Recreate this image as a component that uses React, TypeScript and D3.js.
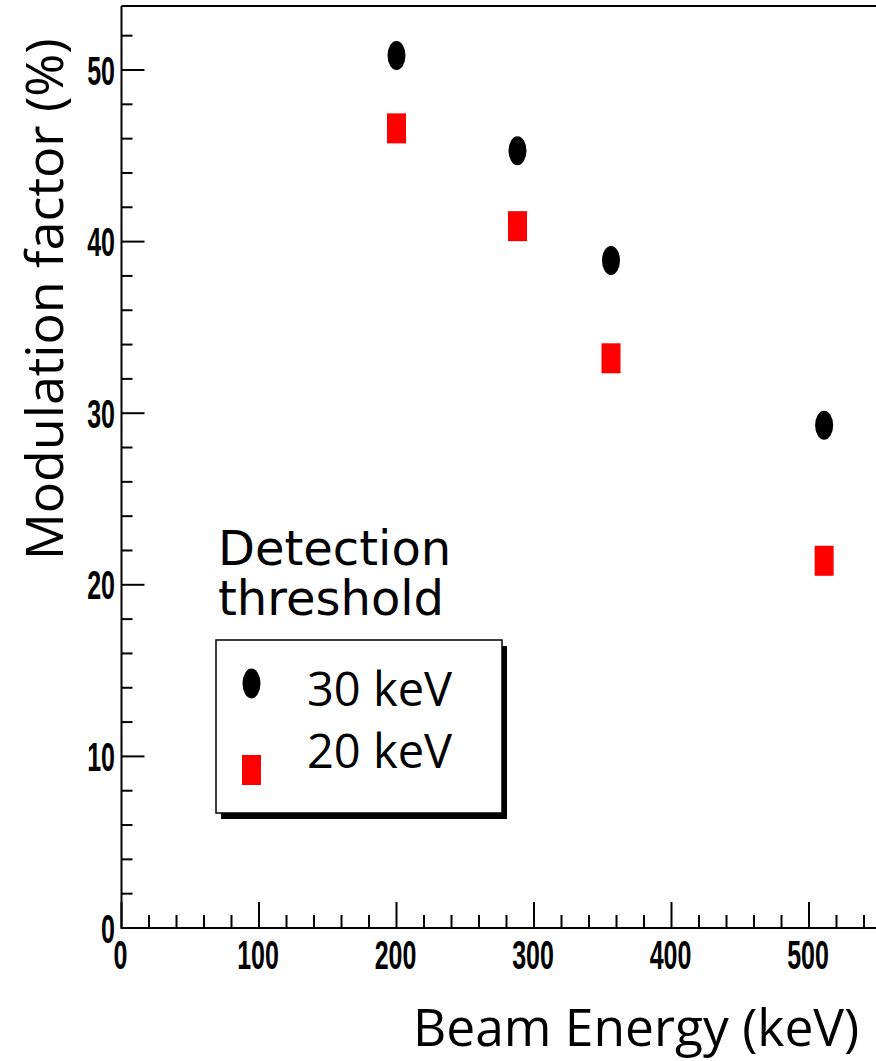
import React from 'react';
import * as d3 from 'd3';

// Beam energies (keV) and modulation factors (%)
const energies = [200, 288, 356, 511];
const mod30keV = [50.85, 45.3, 38.9, 29.3];
const mod20keV = [46.6, 40.9, 33.2, 21.4];

const xTickLabels = [0, 100, 200, 300, 400, 500];
const yTickLabels = [0, 10, 20, 30, 40, 50];

const legendItems = [
  { label: '30 keV', shape: 'circle' },
  { label: '20 keV', shape: 'square' },
];

const W = 876;
const H = 1061;
const STRETCH = 1.6; // the ROOT canvas was stretched vertically

const App = () => {
  // Frame: left edge x=121.5, bottom y=928, top y=6, right edge falls off the page
  const xScale = d3.scaleLinear().domain([0, 550]).range([121.5, 121.5 + 550 * 1.375]);
  const yScale = d3.scaleLinear().domain([0, 53.73]).range([928, 6]);

  const [x0, x1] = xScale.range();
  const [y0, y1] = yScale.range();

  const xMinor = d3.range(0, 551, 20).filter(v => v % 100 !== 0);
  const yMinor = d3.range(0, 54, 2).filter(v => v % 10 !== 0);

  const labelFont = "'Liberation Sans', Arial, sans-serif";
  const textFont = "'Open Sans', sans-serif";

  const points30 = energies.map((e, i) => ({ x: e, y: mod30keV[i] }));
  const points20 = energies.map((e, i) => ({ x: e, y: mod20keV[i] }));

  // legend geometry
  const lg = { x: 216, y: 640, w: 286, h: 173 };

  return (
    <svg
      width={W}
      height={H}
      viewBox={`0 0 ${W} ${H}`}
      style={{ position: 'absolute', left: 0, top: 0, background: '#fff' }}
    >
      <rect x={0} y={0} width={W} height={H} fill="#fff" />

      {/* frame */}
      <g stroke="#000" strokeWidth={2} fill="none">
        <line x1={x0} x2={x0} y1={y0 + 1} y2={y1} />
        <line x1={x0} x2={x1} y1={y0} y2={y0} />
        <line x1={x0} x2={x1} y1={y1} y2={y1} />
      </g>

      {/* x ticks */}
      <g stroke="#000" strokeWidth={2}>
        {xTickLabels.map(v => (
          <line key={'xM' + v} x1={xScale(v)} x2={xScale(v)} y1={y0} y2={y0 - 26} />
        ))}
        {xMinor.map(v => (
          <line key={'xm' + v} x1={xScale(v)} x2={xScale(v)} y1={y0} y2={y0 - 13} />
        ))}
        {yTickLabels.map(v => (
          <line key={'yM' + v} x1={x0} x2={x0 + 23} y1={yScale(v)} y2={yScale(v)} />
        ))}
        {yMinor.map(v => (
          <line key={'ym' + v} x1={x0} x2={x0 + 11} y1={yScale(v)} y2={yScale(v)} />
        ))}
      </g>

      {/* tick labels */}
      <g fontFamily={labelFont} fontWeight="bold" fontSize={25} fill="#000">
        {xTickLabels.map(v => (
          <text
            key={'xl' + v}
            transform={`translate(${xScale(v) - 1},969) scale(1,${STRETCH})`}
            textAnchor="middle"
          >
            {v}
          </text>
        ))}
        {yTickLabels.map(v => (
          <text
            key={'yl' + v}
            transform={`translate(115,${yScale(v) + 14.5}) scale(1,${STRETCH})`}
            textAnchor="end"
          >
            {v}
          </text>
        ))}
      </g>

      {/* data: 30 keV threshold */}
      <g fill="#000">
        {points30.map((d, i) => (
          <ellipse key={'c' + i} cx={xScale(d.x)} cy={yScale(d.y)} rx={9} ry={14.5} />
        ))}
      </g>
      {/* data: 20 keV threshold */}
      <g fill="#ff0000">
        {points20.map((d, i) => (
          <rect key={'s' + i} x={xScale(d.x) - 9.5} y={yScale(d.y) - 15} width={19} height={30} />
        ))}
      </g>

      {/* legend title */}
      <g fontFamily="'DejaVu Sans', sans-serif" fontSize={48} fill="#000">
        <text x={218} y={565}>Detection</text>
        <text x={218} y={615}>threshold</text>
      </g>

      {/* legend box */}
      <rect x={lg.x + 5} y={lg.y + 6} width={lg.w} height={lg.h} fill="#000" />
      <rect x={lg.x} y={lg.y} width={lg.w} height={lg.h} fill="#fff" stroke="#000" strokeWidth={1.5} />
      {legendItems.map((d, i) => {
        const cy = i === 0 ? 683.5 : 770;
        return (
          <g key={d.label}>
            {d.shape === 'circle' ? (
              <ellipse cx={251.5} cy={cy} rx={9} ry={15} fill="#000" />
            ) : (
              <rect x={242} y={cy - 15} width={19} height={30} fill="#ff0000" />
            )}
            <text
              x={307}
              y={i === 0 ? 706 : 768}
              fontFamily={textFont}
              fontSize={47}
              fill="#000"
            >
              {d.label}
            </text>
          </g>
        );
      })}

      {/* axis titles */}
      <text x={413} y={1046} fontFamily={textFont} fontSize={51.5} fill="#000">
        Beam Energy (keV)
      </text>
      <text
        transform="translate(63,560) rotate(-90)"
        fontFamily={textFont}
        fontSize={52}
        fill="#000"
      >
        Modulation factor (%)
      </text>
    </svg>
  );
};

export default App;
